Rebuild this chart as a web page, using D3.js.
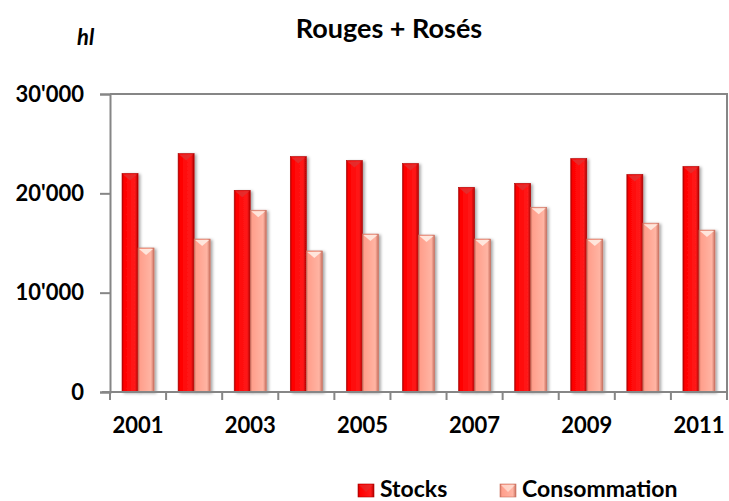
<!DOCTYPE html>
<html>
<head>
<meta charset="utf-8">
<script src="https://cdn.jsdelivr.net/npm/d3@7"></script>
<style>
  body { margin: 0; background: #fff; }
  svg { display: block; font-family: Lato, "Open Sans", sans-serif; font-weight: bold; }
</style>
</head>
<body>
<svg width="729" height="501"></svg>
<script>
// data
var years = ['2001', '2002', '2003', '2004', '2005', '2006', '2007', '2008', '2009', '2010', '2011']
var stocks = [22000, 24000, 20300, 23700, 23300, 23000, 20600, 21000, 23500, 21900, 22700]
var consommation = [14500, 15400, 18300, 14200, 15900, 15800, 15400, 18600, 15400, 17000, 16300]
var series = ['Stocks', 'Consommation']
var yTicks = [0, 10000, 20000, 30000]
var labelYears = ['2001', '2003', '2005', '2007', '2009', '2011']

var colors = { Stocks: ['#b00000', '#ff0000', '#ff1a1a'], Consommation: ['#c9705f', '#ff9f8c', '#ffb4a3'] }
var tipColors = { Stocks: '#e03030', Consommation: '#fff0e8' }
var grey = '#868686'

var svg = d3.select('svg')
var plotLeft = 110
var plotRight = 727
var plotTop = 94
var plotBottom = 392

var x0 = d3.scaleBand().domain(years).range([plotLeft, plotRight]).padding(0)
var x1 = d3.scaleBand().domain(series).range([0, x0.bandwidth()]).paddingInner(0).paddingOuter(0.75)
var y = d3.scaleLinear().domain([0, 30000]).range([plotBottom, plotTop])

var defs = svg.append('defs')
series.forEach(function (s) {
  var g = defs.append('linearGradient').attr('id', 'grad' + s)
  g.append('stop').attr('offset', '0%').attr('stop-color', colors[s][0])
  g.append('stop').attr('offset', '12%').attr('stop-color', colors[s][1])
  g.append('stop').attr('offset', '80%').attr('stop-color', colors[s][2])
  g.append('stop').attr('offset', '100%').attr('stop-color', colors[s][0])
})
var f = defs.append('filter').attr('id', 'shadow').attr('x', '-20%').attr('y', '-5%').attr('width', '160%').attr('height', '115%')
f.append('feDropShadow').attr('dx', 2).attr('dy', 1).attr('stdDeviation', 1.5).attr('flood-color', '#000').attr('flood-opacity', 0.35)

// plot area frame (top and right)
svg.append('path')
  .attr('d', 'M' + plotLeft + ',' + plotTop + 'H' + plotRight + 'V' + plotBottom)
  .attr('fill', 'none').attr('stroke', grey).attr('stroke-width', 2)

// bars
var rows = years.map(function (yr, i) { return { year: yr, Stocks: stocks[i], Consommation: consommation[i] } })
var groups = svg.append('g').attr('class', 'bars').selectAll('g').data(rows).join('g')
  .attr('transform', function (d) { return 'translate(' + x0(d.year) + ',0)' })

series.forEach(function (s) {
  groups.append('rect')
    .attr('x', x1(s))
    .attr('y', function (d) { return y(d[s]) })
    .attr('width', x1.bandwidth())
    .attr('height', function (d) { return plotBottom - y(d[s]) })
    .attr('fill', 'url(#grad' + s + ')')
    .attr('stroke', colors[s][0]).attr('stroke-width', 0.6)
    .attr('filter', 'url(#shadow)')
  groups.append('path')
    .attr('d', function (d) {
      var xa = x1(s) + 1
      var xb = x1(s) + x1.bandwidth() - 1
      var yt = y(d[s]) + 1
      return 'M' + xa + ',' + yt + 'L' + xb + ',' + yt + 'L' + ((xa + xb) / 2) + ',' + (yt + 6) + 'Z'
    })
    .attr('fill', tipColors[s]).attr('opacity', 0.85)
})

// y axis
var fmt = function (v) { return d3.format(',')(v).replace(/,/g, "'") }
var yAxis = svg.append('g')
  .attr('transform', 'translate(' + plotLeft + ',0)')
  .call(d3.axisLeft(y).tickValues(yTicks).tickFormat(fmt).tickSize(10).tickPadding(16))
yAxis.select('.domain').attr('stroke', grey).attr('stroke-width', 2)
yAxis.selectAll('.tick line').attr('stroke', grey).attr('stroke-width', 2)
yAxis.selectAll('.tick text').attr('fill', '#000').attr('font-size', 22).attr('font-family', 'Lato').attr('font-weight', 'bold')

// x axis: baseline, boundary ticks, labels every other year
svg.append('line').attr('x1', plotLeft - 8).attr('x2', plotRight).attr('y1', plotBottom).attr('y2', plotBottom)
  .attr('stroke', grey).attr('stroke-width', 2)
svg.append('g').selectAll('line').data(years.concat(['end'])).join('line')
  .attr('x1', function (d) { return d === 'end' ? plotRight : x0(d) })
  .attr('x2', function (d) { return d === 'end' ? plotRight : x0(d) })
  .attr('y1', plotBottom).attr('y2', plotBottom + 8)
  .attr('stroke', grey).attr('stroke-width', 2)
var xAxis = svg.append('g')
  .attr('transform', 'translate(0,' + plotBottom + ')')
  .call(d3.axisBottom(x0).tickValues(labelYears).tickSize(0).tickPadding(25))
xAxis.select('.domain').remove()
xAxis.selectAll('.tick text').attr('fill', '#000').attr('font-size', 22).attr('font-family', 'Lato').attr('font-weight', 'bold')

// titles
svg.append('text').attr('x', 389).attr('y', 38).attr('text-anchor', 'middle')
  .attr('font-size', 27).text('Rouges + Rosés')
svg.append('text').attr('x', 77).attr('y', 45).attr('font-size', 22).attr('font-style', 'italic').text('hl')

// legend
var legend = svg.append('g').attr('class', 'legend')
var legendX = [358, 500]
series.forEach(function (s, i) {
  var lg = legend.append('g').attr('transform', 'translate(' + legendX[i] + ',484)')
  lg.append('rect').attr('width', 16).attr('height', 13).attr('fill', 'url(#grad' + s + ')')
    .attr('stroke', colors[s][0]).attr('stroke-width', 0.6)
  lg.append('path').attr('d', 'M1,1L15,1L8,8Z').attr('fill', tipColors[s]).attr('opacity', 0.6)
  lg.append('text').attr('x', 22).attr('y', 13).attr('font-size', 23).text(s)
})
</script>
</body>
</html>
